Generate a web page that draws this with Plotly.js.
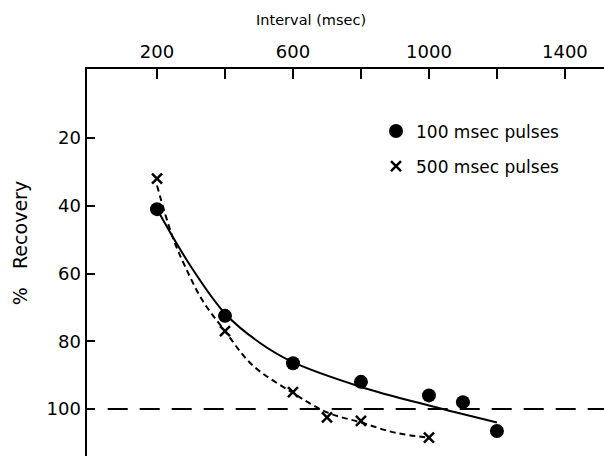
<!DOCTYPE html>
<html>
<head>
<meta charset="utf-8">
<script src="https://cdn.plot.ly/plotly-3.0.1.min.js"></script>
<style>html,body{margin:0;padding:0;background:#fff}#chart{width:604px;height:456px}</style>
</head>
<body>
<div id="chart"></div>
<script>
// Measured points
var intervals100 = [200, 400, 600, 800, 1000, 1100, 1200];
var recovery100 = [41, 72.5, 86.5, 92, 96, 98, 106.5];
var intervals500 = [200, 400, 600, 700, 800, 1000];
var recovery500 = [32, 77, 95, 102.5, 103.5, 108.5];

// Fitted curves
var fit100X = [200, 300, 400, 500, 600, 800, 1000, 1200];
var fit100Y = [41, 58, 71.8, 80.3, 86.2, 93.5, 99, 104];
var fit500X = [200, 245, 283, 334, 400, 480, 600, 700, 800, 900, 1000];
var fit500Y = [34, 49, 58, 68, 77, 87, 95.3, 101, 104, 107, 108.5];

// Reference line at 100 %
var refLineX = [55, 1530];
var refLineY = [100, 100];

// Tick labels and titles
var xTickVals = [200, 400, 600, 800, 1000, 1200, 1400];
var xTickText = ['200', '', '600', '', '1000', '', '1400'];
var yTickVals = [20, 40, 60, 80, 100];
var yTickText = ['20', '40', '60', '80', '100'];
var xTitle = 'Interval (msec)';
var yTitle = '%\u00a0\u00a0\u00a0Recovery';

var FONT = 'DejaVu Sans, sans-serif';

var traces = [
  {x: refLineX, y: refLineY, mode: 'lines', showlegend: false, hoverinfo: 'skip',
   line: {color: '#000', width: 2, dash: '20px,12px'}},
  {x: fit100X, y: fit100Y, mode: 'lines', showlegend: false, hoverinfo: 'skip',
   line: {color: '#000', width: 2, shape: 'spline', smoothing: 1}},
  {x: fit500X, y: fit500Y, mode: 'lines', showlegend: false, hoverinfo: 'skip',
   line: {color: '#000', width: 2, shape: 'spline', smoothing: 1, dash: '6px,4px'}},
  {x: intervals100, y: recovery100, mode: 'markers', name: '100 msec pulses', legendgroup: 'a',
   marker: {symbol: 'circle', size: 14, color: '#000'}},
  {x: intervals500, y: recovery500, mode: 'markers', name: '500 msec pulses', legendgroup: 'b',
   marker: {symbol: 'x-thin', size: 10, color: '#000', line: {color: '#000', width: 2.5}}}
];

var layout = {
  width: 604, height: 456,
  margin: {l: 87, r: 0, t: 69, b: 0, pad: 0},
  paper_bgcolor: '#fff', plot_bgcolor: '#fff',
  font: {family: FONT, color: '#000', size: 18},
  title: {text: xTitle, font: {family: FONT, size: 14.5, color: '#000'},
          xref: 'container', yref: 'container', x: 0.515, y: 0.956,
          xanchor: 'center', yanchor: 'middle'},
  showlegend: true,
  legend: {x: 0.559, y: 0.885, xanchor: 'left', yanchor: 'top',
           font: {family: FONT, size: 17, color: '#000'},
           bgcolor: 'rgba(0,0,0,0)', traceorder: 'grouped', tracegroupgap: 10},
  xaxis: {
    side: 'top', range: [-6, 1515], showgrid: false, zeroline: false,
    showline: true, linecolor: '#000', linewidth: 2,
    ticks: 'inside', ticklen: 10, tickwidth: 2, tickcolor: '#000',
    tickmode: 'array', tickvals: xTickVals, ticktext: xTickText,
    tickfont: {family: FONT, size: 18, color: '#000'},
    ticklabelstandoff: 2
  },
  yaxis: {
    range: [113.9, -0.4], showgrid: false, zeroline: false,
    showline: true, linecolor: '#000', linewidth: 2.5,
    ticks: 'inside', ticklen: 8, tickwidth: 2, tickcolor: '#000',
    tickmode: 'array', tickvals: yTickVals, ticktext: yTickText,
    tickfont: {family: FONT, size: 18, color: '#000'},
    ticklabelstandoff: 0
  },
  annotations: [
    {text: yTitle, xref: 'paper', yref: 'paper', x: -0.1296, y: 0.55,
     xanchor: 'center', yanchor: 'middle', textangle: -90, showarrow: false,
     font: {family: FONT, size: 19, color: '#000'}}
  ]
};

Plotly.newPlot('chart', traces, layout, {displayModeBar: false, staticPlot: true});
</script>
</body>
</html>
